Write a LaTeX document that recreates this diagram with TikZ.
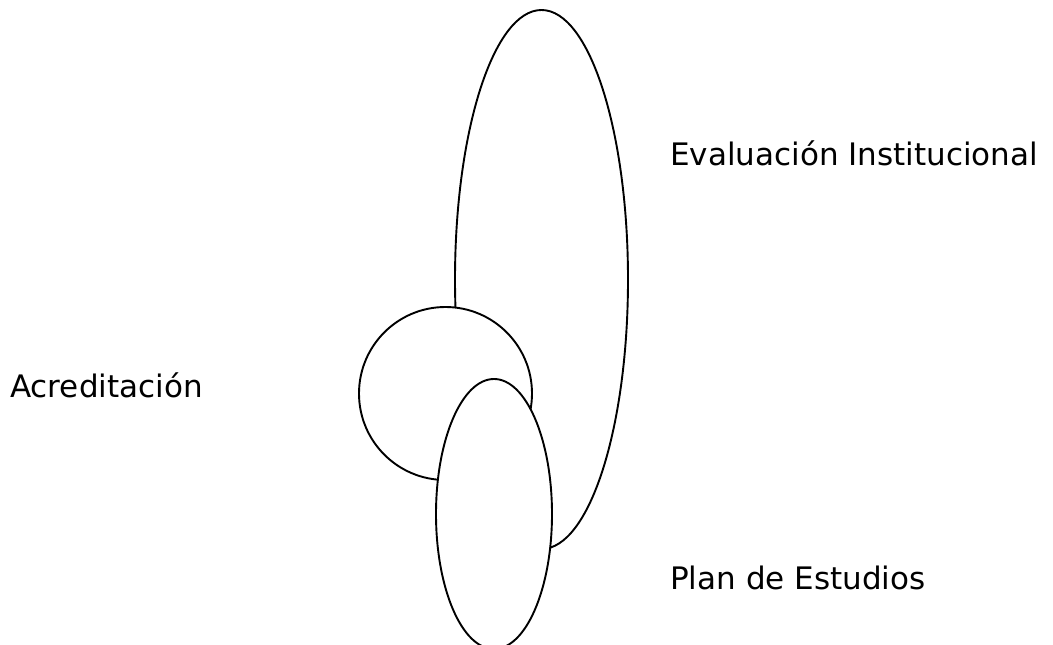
\documentclass[tikz,border=0pt]{standalone}
\usepackage{fontspec}
\setmainfont{DejaVu Sans}
\begin{document}
\begin{tikzpicture}[x=1pt,y=-1pt,
  shapeline/.style={draw=black, line width=1.9pt, fill=white},
  lbl/.style={anchor=base west, inner sep=0pt, font=\fontsize{31}{36}\selectfont}]
\clip (0,0) rectangle (1053,645);
\fill[white] (0,0) rectangle (1053,645);
% Evaluación Institucional (large ellipse)
\draw[shapeline] (541.5,279.5) ellipse [x radius=86.5pt, y radius=269.5pt];
% Acreditación (circle)
\draw[shapeline] (445.5,393.5) circle [radius=86.5pt];
% Plan de Estudios (small ellipse)
\draw[shapeline] (494,514) ellipse [x radius=58pt, y radius=135pt];
\node[lbl] (eval) at (670,165) {Evaluación Institucional};
\node[lbl] (acre) at (10,397) {Acreditación};
\node[lbl] (plan) at (670,589) {Plan de Estudios};
\end{tikzpicture}
\end{document}
